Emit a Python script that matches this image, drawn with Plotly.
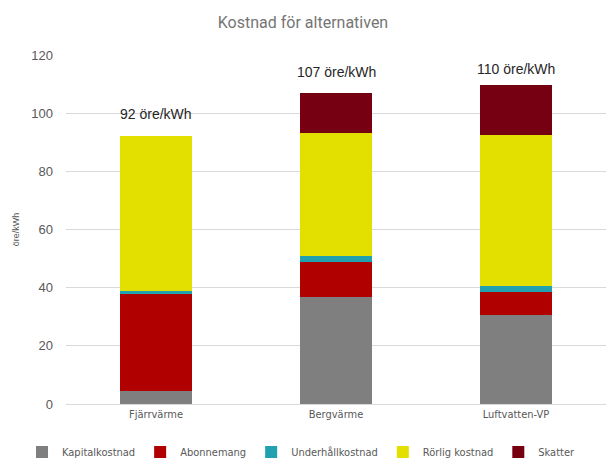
import plotly.graph_objects as go

categories = ["Fjärrvärme", "Bergvärme", "Luftvatten-VP"]
series_names = ["Kapitalkostnad", "Abonnemang", "Underhållkostnad", "Rörlig kostnad", "Skatter"]
kapital = [4.6, 36.9, 30.5]
abonnemang = [33.1, 11.9, 8.0]
underhall = [1.2, 2.1, 2.0]
rorlig = [53.1, 42.2, 52.1]
skatter = [0.0, 13.8, 17.2]
totals = [92, 107, 110]
total_labels = ["92 öre/kWh", "107 öre/kWh", "110 öre/kWh"]
y_ticks = [0, 20, 40, 60, 80, 100, 120]

colors = ["#7F7F7F", "#B00000", "#21A0B0", "#E3E000", "#760012"]
series = [kapital, abonnemang, underhall, rorlig, skatter]

# layout-only: pixel gap between each bar top and its total label
label_gaps = [12, 11, 5]

W, H = 606, 458
ML, MR, MT, MB = 66, 0, 55, 54
PW, PH = W - ML - MR, H - MT - MB

fig = go.Figure()
for name, vals, col in zip(series_names, series, colors):
    fig.add_trace(go.Bar(
        x=categories, y=vals, name=name,
        marker=dict(color=col, line=dict(width=0)),
    ))

for cat, tot, lab, gap in zip(categories, totals, total_labels, label_gaps):
    fig.add_annotation(
        x=cat, y=tot, text=lab, showarrow=False,
        yanchor="bottom", yshift=gap,
        font=dict(family="Liberation Sans, Arial", size=14, color="#262626"),
    )

fig.update_layout(
    width=W, height=H,
    barmode="stack",
    bargap=0.6,
    plot_bgcolor="white",
    paper_bgcolor="white",
    margin=dict(l=ML, r=MR, t=MT, b=MB, autoexpand=False),
    title=dict(
        text="Kostnad för alternativen",
        x=0.5, xanchor="center", y=1 - 22 / H, yanchor="middle",
        font=dict(family="Roboto", size=16, color="#757575"),
    ),
    xaxis=dict(
        showgrid=False, showline=True, linecolor="#D9D9D9", linewidth=1,
        ticks="", tickfont=dict(family="DejaVu Sans Condensed", size=11, color="#595959"),
        fixedrange=True,
    ),
    yaxis=dict(
        range=[0, 120], tickvals=y_ticks,
        showgrid=True, gridcolor="#D9D9D9", gridwidth=1,
        zeroline=False, ticks="",
        ticklabelstandoff=12,
        tickfont=dict(family="Liberation Sans, Arial", size=13, color="#595959"),
        title=dict(text="öre/kWh", font=dict(family="Liberation Sans, Arial", size=9, color="#595959"), standoff=10),
    ),
    legend=dict(
        orientation="h",
        x=(22 - ML) / PW, xanchor="left",
        y=(H - MB - 452) / PH, yanchor="middle",
        font=dict(family="DejaVu Sans Condensed", size=11, color="#595959"),
        itemwidth=30,
        tracegroupgap=0,
        traceorder="normal",
    ),
    showlegend=True,
)

fig.write_html(
    "out.html",
    config={"displayModeBar": False},
    post_script="document.body.style.margin='0';document.body.style.overflow='hidden';",
)
